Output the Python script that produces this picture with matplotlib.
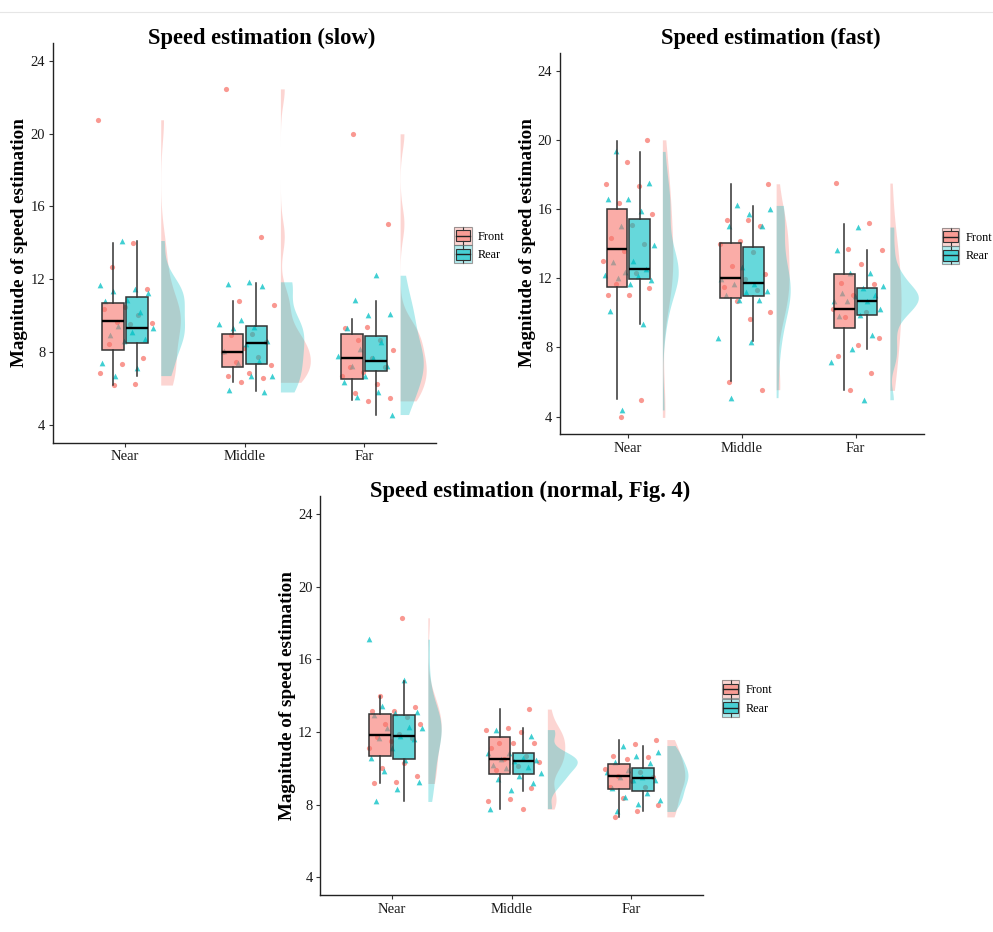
import numpy as np
import matplotlib
matplotlib.use("Agg")
import matplotlib.pyplot as plt
from matplotlib.legend_handler import HandlerBase
from matplotlib.patches import Rectangle, Patch
from matplotlib.lines import Line2D
from matplotlib.colors import to_rgb

plt.rcParams['font.family'] = ['Liberation Serif', 'DejaVu Serif']

# ---------------- data ----------------
categories = ['Near', 'Middle', 'Far']
groups = ['Front', 'Rear']
panel_titles = ['Speed estimation (slow)', 'Speed estimation (fast)',
                'Speed estimation (normal, Fig. 4)']
y_label = 'Magnitude of speed estimation'
y_ticks = [4, 8, 12, 16, 20, 24]

# raw observations per category (Near, Middle, Far)
slow_front = [
    [20.76, 13.97, 12.67, 11.47, 10.44, 10.37, 10.0, 9.63, 9.6, 9.55, 8.45, 7.68, 7.31, 6.83, 6.21, 6.17],
    [22.46, 14.34, 10.82, 10.6, 9.0, 8.94, 8.53, 8.2, 7.99, 7.71, 7.44, 7.26, 6.83, 6.67, 6.54, 6.32],
    [19.99, 15.05, 9.38, 9.31, 8.63, 8.63, 8.12, 7.66, 7.16, 7.16, 6.87, 6.65, 6.21, 5.72, 5.48, 5.30],
]
slow_rear = [
    [14.12, 11.70, 11.47, 11.34, 11.23, 10.86, 10.82, 10.20, 9.4, 9.29, 9.1, 8.94, 8.70, 8.59, 7.37, 7.09, 6.69],
    [11.85, 11.72, 11.61, 9.73, 9.54, 9.38, 9.31, 8.57, 8.45, 8.02, 7.47, 7.40, 6.69, 6.65, 5.92, 5.79],
    [12.21, 10.86, 10.07, 10.05, 9.29, 8.56, 8.15, 7.79, 7.64, 7.22, 7.22, 6.65, 6.32, 5.77, 5.50, 4.55],
]
fast_front = [
    [20.0, 18.71, 17.44, 17.33, 16.37, 15.71, 15.1, 14.35, 14.0, 13.6, 13.0, 12.33, 11.65, 11.44, 11.02, 11.02, 4.96, 3.96],
    [17.46, 15.39, 15.35, 15.02, 14.15, 14.0, 13.52, 12.71, 12.25, 11.93, 11.5, 11.31, 10.67, 10.04, 9.64, 6.02, 5.56],
    [17.5, 15.19, 13.71, 13.66, 12.81, 11.75, 11.66, 11.02, 10.25, 10.06, 9.75, 8.52, 8.14, 7.52, 6.52, 5.52],
]
fast_rear = [
    [19.33, 17.52, 16.56, 16.56, 15.9, 15.0, 13.9, 12.97, 12.94, 12.52, 12.37, 12.21, 12.14, 12.0, 11.9, 11.64, 10.1, 9.37, 4.39],
    [16.21, 16.0, 15.71, 15.04, 15.02, 12.67, 11.94, 11.66, 11.64, 11.25, 11.18, 11.02, 10.75, 10.73, 8.56, 8.33, 5.1],
    [14.96, 13.63, 12.33, 12.3, 11.56, 11.44, 11.17, 11.02, 11.0, 10.67, 10.67, 10.67, 10.25, 9.85, 9.81, 8.71, 7.91, 7.16, 4.98],
]
normal_front = [
    [18.29, 13.97, 13.35, 13.18, 13.18, 12.85, 12.45, 12.45, 11.86, 11.73, 11.67, 11.51, 11.12, 10.28, 10.04, 9.58, 9.25, 9.16],
    [13.26, 12.21, 12.1, 12.0, 11.4, 11.4, 11.38, 11.09, 10.7, 10.52, 10.35, 10.13, 9.9, 8.9, 8.31, 8.2, 7.75],
    [11.58, 11.33, 10.68, 10.61, 10.5, 9.98, 9.8, 9.6, 9.5, 9.3, 8.98, 8.95, 8.37, 8.0, 7.62, 7.32],
]
normal_rear = [
    [17.11, 14.87, 13.42, 13.12, 13.05, 12.95, 12.3, 12.22, 12.22, 11.8, 11.65, 11.6, 11.12, 10.57, 10.45, 9.84, 9.25, 8.88, 8.17],
    [12.13, 11.79, 10.85, 10.85, 10.59, 10.5, 10.45, 10.4, 10.19, 10.09, 10.0, 9.76, 9.58, 9.4, 9.18, 8.79, 7.78],
    [11.25, 10.87, 10.68, 10.37, 10.28, 9.91, 9.8, 9.54, 9.5, 9.36, 9.36, 8.9, 8.61, 8.42, 8.26, 8.04, 7.62],
]

# box statistics: [whisker low, Q1, median, Q3, whisker high]
slow_front_box = [[6.19, 8.10, 9.67, 10.66, 13.97], [6.34, 7.16, 7.99, 9.00, 10.82], [5.37, 6.50, 7.66, 9.00, 9.82]]
slow_rear_box = [[6.69, 8.50, 9.32, 10.99, 14.12], [5.85, 7.31, 8.48, 9.41, 11.81], [4.51, 6.93, 7.49, 8.89, 10.81]]
fast_front_box = [[5.02, 11.52, 13.67, 15.98, 19.96], [6.06, 10.85, 12.00, 14.06, 17.46], [5.54, 9.10, 10.20, 12.25, 15.16]]
fast_rear_box = [[9.37, 11.93, 12.52, 15.40, 19.29], [8.37, 10.95, 11.70, 13.83, 16.15], [7.89, 9.87, 10.67, 11.42, 13.63]]
normal_front_box = [[9.20, 10.68, 11.84, 13.00, 13.99], [7.76, 9.67, 10.52, 11.71, 13.26], [7.34, 8.88, 9.58, 10.22, 11.58]]
normal_rear_box = [[8.19, 10.50, 11.77, 12.95, 14.83], [8.77, 9.69, 10.41, 10.85, 12.20], [7.62, 8.75, 9.49, 10.02, 11.23]]

# ---------------- style ----------------
COL = {'Front': '#F8766D', 'Rear': '#00BFC4'}
W, H = 993, 932
EDGE = '#333333'

fig = plt.figure(figsize=(W / 100, H / 100), dpi=100)
fig.add_artist(Line2D([0, 1], [1 - 12 / H, 1 - 12 / H], transform=fig.transFigure,
                      color='#e6e6e6', lw=0.8))


def px_axes(l, t, r, b):
    return fig.add_axes([l / W, 1 - b / H, (r - l) / W, (b - t) / H])


def kde(vals):
    v = np.asarray(vals, float)
    n = len(v)
    sd = v.std(ddof=1)
    q75, q25 = np.percentile(v, [75, 25])
    bw = 0.9 * min(sd, (q75 - q25) / 1.34) * n ** (-0.2)
    y = np.linspace(v.min(), v.max(), 400)
    d = np.exp(-0.5 * ((y[:, None] - v[None, :]) / bw) ** 2).sum(1) / (n * bw * np.sqrt(2 * np.pi))
    return y, d


class BoxKey(HandlerBase):
    def create_artists(self, legend, orig, xd, yd, w, h, fs, trans):
        c = to_rgb(orig.get_facecolor())
        x0, y0 = -xd, -yd
        arts = [
            Rectangle((x0, y0), w, h, facecolor=(*c, 0.3), edgecolor='none', transform=trans),
            Rectangle((x0 + 0.1 * w, y0 + 0.2 * h), 0.8 * w, 0.6 * h, facecolor=(*c, 0.6),
                      edgecolor=EDGE, lw=0.8, transform=trans),
            Line2D([x0 + 0.1 * w, x0 + 0.9 * w], [y0 + 0.5 * h] * 2, color='#222222', lw=1.0, transform=trans),
            Line2D([x0 + 0.5 * w] * 2, [y0 + 0.8 * h, y0 + h], color=EDGE, lw=0.8, transform=trans),
            Line2D([x0 + 0.5 * w] * 2, [y0, y0 + 0.2 * h], color=EDGE, lw=0.8, transform=trans),
            Rectangle((x0, y0), w, h, facecolor='none', edgecolor=(0.45, 0.45, 0.45, 0.7),
                      lw=0.8, transform=trans),
        ]
        return arts


panels = [
    dict(title=panel_titles[0], front=slow_front, rear=slow_rear, fbox=slow_front_box, rbox=slow_rear_box,
         ax=(53, 42.7, 436, 442.7), tx=262, ty=38, lx=20, ly=242.5, legx=454, legy=245),
    dict(title=panel_titles[1], front=fast_front, rear=fast_rear, fbox=fast_front_box, rbox=fast_rear_box,
         ax=(560, 53.3, 924, 434), tx=770.5, ty=38, lx=528, ly=243, legx=941.7, legy=246),
    dict(title=panel_titles[2], front=normal_front, rear=normal_rear, fbox=normal_front_box, rbox=normal_rear_box,
         ax=(320.3, 496, 702.7, 895.3), tx=529.7, ty=491, lx=287.5, ly=696, legx=721.7, legy=698.3),
]

for pi, p in enumerate(panels):
    ax = px_axes(*p['ax'])
    data = {'Front': p['front'], 'Rear': p['rear']}
    boxes = {'Front': p['fbox'], 'Rear': p['rbox']}

    # half violins (area scaled within panel)
    dens = {}
    dmax = 0
    for g in groups:
        for ci in range(3):
            y, d = kde(data[g][ci])
            dens[(g, ci)] = (y, d)
            dmax = max(dmax, d.max())
    for g in groups:
        for ci in range(3):
            y, d = dens[(g, ci)]
            x0 = ci + 1 + 0.3
            ax.fill_betweenx(y, x0, x0 + d / dmax * 0.25, color=COL[g], alpha=0.3, lw=0, zorder=1)

    # jittered points
    for gi, g in enumerate(groups):
        for ci in range(3):
            vals = np.asarray(data[g][ci])
            k = np.arange(len(vals))
            phase = 0.137 * (pi * 6 + gi * 3 + ci)
            off = -0.22 + 0.47 * ((k * 0.618034 + phase) % 1.0)
            marker = 'o' if g == 'Front' else '^'
            ax.scatter(ci + 1 + off, vals, s=14 if g == 'Front' else 17, marker=marker,
                       color=COL[g], alpha=0.75, lw=0, zorder=2)

    # boxplots
    for gi, g in enumerate(groups):
        stats = []
        for ci in range(3):
            lo, q1, med, q3, hi = boxes[g][ci]
            stats.append(dict(med=med, q1=q1, q3=q3, whislo=lo, whishi=hi))
        pos = [ci + 1 + (-0.1 if g == 'Front' else 0.1) for ci in range(3)]
        c = to_rgb(COL[g])
        ax.bxp(stats, positions=pos, widths=0.18, patch_artist=True, showfliers=False, showcaps=False,
               boxprops=dict(facecolor=(*c, 0.6), edgecolor=EDGE, lw=1.1),
               medianprops=dict(color='black', lw=1.7),
               whiskerprops=dict(color=EDGE, lw=1.1), zorder=3, manage_ticks=False)

    ax.set_xlim(0.4, 3.6)
    ax.set_ylim(3.0, 25.0)
    ax.set_xticks([1, 2, 3])
    ax.set_xticklabels(categories)
    ax.set_yticks(y_ticks)
    for s in ['top', 'right']:
        ax.spines[s].set_visible(False)
    for s in ['left', 'bottom']:
        ax.spines[s].set_color('#222222')
        ax.spines[s].set_linewidth(1.0)
    ax.tick_params(length=3, width=0.8, color='#333333', labelsize=10.5, labelcolor='#1a1a1a', pad=2.5)
    ax.set_facecolor('none')

    fig.text(p['tx'] / W, 1 - p['ty'] / H, p['title'], ha='center', va='center',
             fontsize=16.3, fontweight='bold')
    fig.text(p['lx'] / W, 1 - p['ly'] / H, y_label, ha='center', va='center', rotation=90,
             fontsize=13.7, fontweight='bold')

    handles = [Patch(facecolor=COL[g]) for g in groups]
    fig.legend(handles, groups, handler_map={Patch: BoxKey()}, loc='center left',
               bbox_to_anchor=(p['legx'] / W, 1 - p['legy'] / H), frameon=False,
               fontsize=8.8, borderpad=0, borderaxespad=0, handlelength=1.45, handleheight=1.89,
               handletextpad=0.5, labelspacing=0.05)

fig.savefig('out.png', dpi=100)
